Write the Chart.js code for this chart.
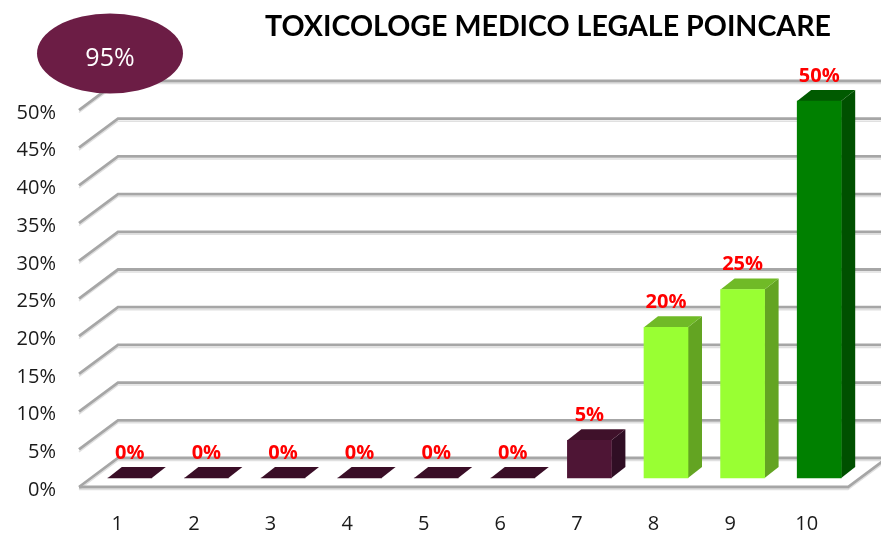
<!DOCTYPE html>
<html><head><meta charset="utf-8">
<style>html,body{margin:0;padding:0;background:#fff;overflow:hidden}canvas{display:block}</style>
<script src="https://cdn.jsdelivr.net/npm/chart.js@4"></script>
</head><body>
<canvas id="c" width="881" height="534"></canvas>
<script>
const titleText = "TOXICOLOGE MEDICO LEGALE POINCARE";
const badgeText = "95%";
const categories = ["1","2","3","4","5","6","7","8","9","10"];
const values = [0,0,0,0,0,0,5,20,25,50];
const frontColors = ["#3a0e27","#3a0e27","#3a0e27","#3a0e27","#3a0e27","#3a0e27","#4e1535","#99ff33","#99ff33","#008000"];
const topColors   = ["#3a0e27","#3a0e27","#3a0e27","#3a0e27","#3a0e27","#3a0e27","#3f112a","#70ba27","#70ba27","#005a00"];
const sideColors  = ["#3a0e27","#3a0e27","#3a0e27","#3a0e27","#3a0e27","#3a0e27","#300e24","#63a422","#63a422","#005000"];

const WALL_DX = 39, WALL_DY = -29, BAR_DX = 12.5, BAR_DY = -9, DEPTH_X = 14, DEPTH_Y = -11;

function stroke(ctx, pts, color, w) {
  ctx.beginPath();
  pts.forEach((p, i) => i ? ctx.lineTo(p[0], p[1]) : ctx.moveTo(p[0], p[1]));
  ctx.strokeStyle = color; ctx.lineWidth = w; ctx.stroke();
}
function poly(ctx, pts, color) {
  ctx.beginPath();
  pts.forEach((p, i) => i ? ctx.lineTo(p[0], p[1]) : ctx.moveTo(p[0], p[1]));
  ctx.closePath(); ctx.fillStyle = color; ctx.fill();
}

const scene = {
  id: "scene",
  afterLayout(chart) {
    chart.titleBlock.left = 265;
    chart.titleBlock.right = 831;
    chart.titleBlock.top = 2;
  },
  beforeDatasetsDraw(chart) {
    const ctx = chart.ctx, y = chart.scales.y, a = chart.chartArea;
    ctx.save();
    ctx.lineCap = "butt";
    y.ticks.forEach(t => {
      const py = y.getPixelForValue(t.value);
      const pts = [[a.left, py], [a.left + WALL_DX, py + WALL_DY], [881, py + WALL_DY]];
      stroke(ctx, pts.map(p => [p[0], p[1] + 2.5]), "#e0e0e0", 1.5);
      stroke(ctx, pts, "#a6a6a6", 2.8);
    });
    const b = y.getPixelForValue(0);
    stroke(ctx, [[a.left, b + 2.5], [a.right + 3, b + 2.5], [a.right + 3 + WALL_DX, b + WALL_DY + 2.5]], "#e0e0e0", 1.5);
    stroke(ctx, [[a.left, b], [a.right + 3, b], [a.right + 3 + WALL_DX, b + WALL_DY]], "#a6a6a6", 2.8);
    ctx.restore();

    ctx.save();
    ctx.translate(BAR_DX, BAR_DY);
    chart.getDatasetMeta(0).data.forEach((el, i) => {
      const p = el.getProps(["x", "y", "base", "width"], true);
      const l = p.x - p.width / 2, r = p.x + p.width / 2;
      poly(ctx, [[r, p.y], [r + DEPTH_X, p.y + DEPTH_Y], [r + DEPTH_X, p.base + DEPTH_Y], [r, p.base]], sideColors[i]);
      poly(ctx, [[l, p.y], [l + DEPTH_X, p.y + DEPTH_Y], [r + DEPTH_X, p.y + DEPTH_Y], [r, p.y]], topColors[i]);
    });
  },
  afterDatasetsDraw(chart) {
    const ctx = chart.ctx;
    ctx.restore();
    ctx.save();
    ctx.font = "bold 20px 'Open Sans'";
    ctx.fillStyle = "#ff0000";
    ctx.textAlign = "center";
    ctx.textBaseline = "middle";
    chart.getDatasetMeta(0).data.forEach((el, i) => {
      const p = el.getProps(["x", "y"], true);
      ctx.fillText(values[i] + "%", p.x + BAR_DX, p.y + BAR_DY + DEPTH_Y - 14);
    });
    ctx.restore();
  },
  afterDraw(chart) {
    const ctx = chart.ctx;
    ctx.save();
    ctx.beginPath();
    ctx.ellipse(110, 53.5, 73, 40, 0, 0, Math.PI * 2);
    ctx.fillStyle = "#6c1d45";
    ctx.fill();
    ctx.font = "500 25px 'Open Sans'";
    ctx.fillStyle = "#ffffff";
    ctx.textAlign = "center";
    ctx.textBaseline = "middle";
    ctx.fillText(badgeText, 110, 59);
    ctx.restore();
  }
};

new Chart(document.getElementById("c"), {
  type: "bar",
  data: {
    labels: categories,
    datasets: [{
      data: values,
      backgroundColor: frontColors,
      barThickness: 44,
      clip: false
    }]
  },
  plugins: [scene],
  options: {
    responsive: false,
    animation: false,
    devicePixelRatio: 1,
    layout: { padding: { left: 0, right: 36, top: 0, bottom: 0 } },
    plugins: {
      legend: { display: false },
      tooltip: { enabled: false },
      title: {
        display: true,
        text: titleText,
        color: "#000000",
        font: { family: "Lato", size: 28.6, weight: "bold", lineHeight: 1.2 },
        padding: { top: 8, bottom: 67.7 }
      }
    },
    scales: {
      x: {
        grid: { display: false },
        border: { display: false },
        ticks: { color: "#1a1a1a", padding: 17, maxRotation: 0, font: { family: "Open Sans", size: 20 } },
        afterFit(s) { s.height = 47; }
      },
      y: {
        min: 0, max: 50,
        grid: { display: false },
        border: { display: false },
        ticks: {
          stepSize: 5,
          color: "#1a1a1a",
          padding: 15,
          labelOffset: 3,
          font: { family: "Open Sans", size: 20 },
          callback: v => v + "%"
        },
        afterFit(s) { s.width = 79; }
      }
    }
  }
});
</script>
</body></html>
